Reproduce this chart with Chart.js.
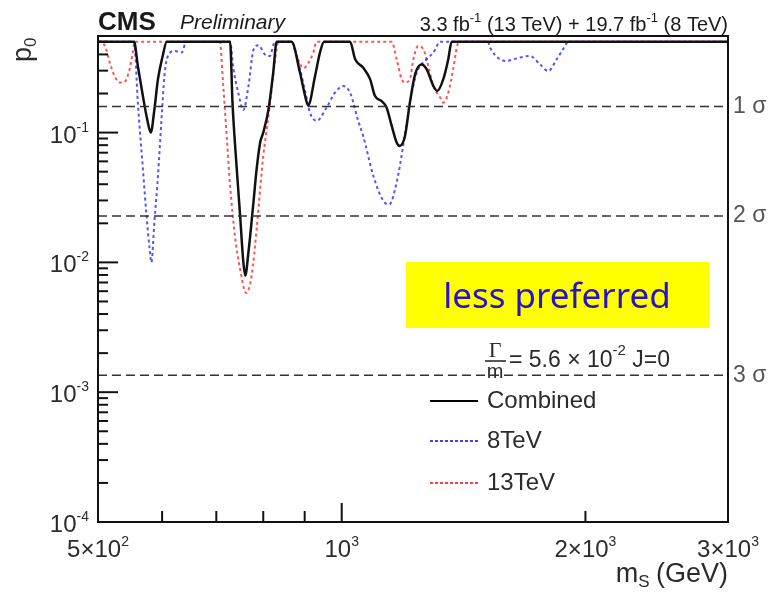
<!DOCTYPE html>
<html>
<head>
<meta charset="utf-8">
<script src="https://cdn.jsdelivr.net/npm/chart.js@4"></script>
<style>
  html, body { margin: 0; padding: 0; background: #fff; }
  #wrap { width: 774px; height: 594px; position: relative; }
</style>
</head>
<body>
<div id="wrap"><canvas id="c" width="774" height="594"></canvas></div>
<script>
// Local p-value scan versus resonance mass, spin-0 hypothesis, Gamma/m = 5.6e-2
const massCombined = [500, 554, 560, 568, 575, 581, 587, 593, 601, 608, 728, 733, 742, 749, 756, 760, 767, 778, 785, 793, 800, 812, 823, 831, 867, 888, 901, 909, 927, 940, 951, 1024, 1039, 1063, 1084, 1099, 1120, 1136, 1153, 1169, 1180, 1197, 1214, 1232, 1255, 1273, 1298, 1312, 1335, 1354, 1367, 3000];
const pCombined    = [0.5, 0.5, 0.326, 0.192, 0.127, 0.100, 0.151, 0.258, 0.389, 0.5, 0.5, 0.17, 0.052, 0.023, 0.0100, 0.0079, 0.012, 0.029, 0.052, 0.084, 0.100, 0.151, 0.29, 0.5, 0.5, 0.29, 0.192, 0.162, 0.273, 0.413, 0.5, 0.5, 0.367, 0.316, 0.258, 0.192, 0.175, 0.156, 0.112, 0.084, 0.0789, 0.094, 0.17, 0.281, 0.335, 0.308, 0.228, 0.209, 0.258, 0.367, 0.5, 0.5];

const mass8TeV = [500, 554, 560, 568, 574, 579, 582, 587, 593, 599, 604, 610, 622, 634, 643, 728, 735, 745, 756, 767, 778, 789, 804, 815, 827, 867, 888, 901, 914, 931, 958, 981, 1005, 1024, 1048, 1063, 1094, 1126, 1145, 1169, 1191, 1214, 1238, 1273, 1298, 1323, 1516, 1525, 1599, 1629, 1708, 1758, 1799, 1843, 1887, 1903, 3000];
const p8TeV    = [0.5, 0.5, 0.17, 0.053, 0.023, 0.0128, 0.0100, 0.0205, 0.0465, 0.127, 0.273, 0.389, 0.425, 0.413, 0.5, 0.5, 0.308, 0.203, 0.149, 0.228, 0.433, 0.47, 0.40, 0.389, 0.5, 0.5, 0.308, 0.209, 0.142, 0.123, 0.156, 0.203, 0.228, 0.203, 0.123, 0.094, 0.0465, 0.0297, 0.028, 0.0412, 0.0789, 0.17, 0.29, 0.367, 0.413, 0.5, 0.5, 0.45, 0.356, 0.367, 0.389, 0.335, 0.298, 0.367, 0.464, 0.5, 0.5];

const mass13TeV = [500, 503, 510, 517, 524, 532, 539, 547, 552, 555, 707, 714, 721, 728, 738, 749, 762, 774, 785, 793, 800, 812, 823, 831, 834, 867, 880, 897, 909, 922, 931, 1153, 1169, 1186, 1197, 1214, 1226, 1243, 1261, 1279, 1298, 1323, 1335, 1354, 1373, 1387, 1395, 3000];
const p13TeV    = [0.5, 0.5, 0.464, 0.346, 0.273, 0.243, 0.245, 0.308, 0.413, 0.5, 0.5, 0.228, 0.094, 0.0388, 0.0161, 0.0089, 0.0058, 0.0079, 0.018, 0.0367, 0.066, 0.134, 0.273, 0.44, 0.5, 0.5, 0.389, 0.313, 0.342, 0.41, 0.5, 0.5, 0.367, 0.258, 0.243, 0.258, 0.367, 0.464, 0.44, 0.326, 0.228, 0.186, 0.17, 0.203, 0.308, 0.45, 0.5, 0.5];

// Significance reference lines (one-sided p-values)
const sigmaLabels = ['1 σ', '2 σ', '3 σ'];
const sigmaP = [0.158655, 0.0227501, 0.0013499];

// Axis tick labels: [mantissa, exponent]
const xTickValues = [500, 1000, 2000, 3000];
const xTickLabels = [['5×10', '2'], ['10', '3'], ['2×10', '3'], ['3×10', '3']];
const yTickValues = [1e-1, 1e-2, 1e-3, 1e-4];
const yTickLabels = [['10', '-1'], ['10', '-2'], ['10', '-3'], ['10', '-4']];

const seriesNames = ['Combined', '8TeV', '13TeV'];

const toPoints = (xs, ys) => xs.map((x, i) => ({ x: x, y: ys[i] }));

const FONT = '"Liberation Sans", Arial, sans-serif';
const TXT = '#2b2b2b';

function supText(ctx, base, exp, x, y, size, supSize, rise, align) {
  ctx.font = size + 'px ' + FONT;
  const wb = ctx.measureText(base).width;
  ctx.font = supSize + 'px ' + FONT;
  const we = ctx.measureText(exp).width;
  const total = wb + we;
  let x0 = x;
  if (align === 'center') x0 = x - total / 2;
  else if (align === 'right') x0 = x - total;
  ctx.textAlign = 'left';
  ctx.textBaseline = 'alphabetic';
  ctx.font = size + 'px ' + FONT;
  ctx.fillText(base, x0, y);
  ctx.font = supSize + 'px ' + FONT;
  ctx.fillText(exp, x0 + wb, y - rise);
}

const framePlugin = {
  id: 'frame',
  afterDatasetsDraw(chart) {
    const ctx = chart.ctx;
    const ca = chart.chartArea;
    const xs = chart.scales.x, ys = chart.scales.y;
    ctx.save();

    // significance lines
    ctx.strokeStyle = '#333';
    ctx.lineWidth = 1.5;
    ctx.setLineDash([9, 5]);
    sigmaP.forEach((p, i) => {
      const py = ys.getPixelForValue(p);
      ctx.beginPath();
      ctx.moveTo(ca.left, py);
      ctx.lineTo(ca.right, py);
      ctx.stroke();
      ctx.fillStyle = '#555';
      ctx.font = '23px ' + FONT;
      ctx.textAlign = 'left';
      ctx.textBaseline = 'middle';
      ctx.fillText(sigmaLabels[i], ca.right + 5, py);
    });
    ctx.setLineDash([]);

    // frame
    ctx.strokeStyle = '#111';
    ctx.lineWidth = 2;
    ctx.strokeRect(ca.left, ca.top, ca.right - ca.left, ca.bottom - ca.top);

    // y ticks (inside)
    for (let d = -4; d <= -1; d++) {
      for (let k = 1; k <= 9; k++) {
        const v = k * Math.pow(10, d);
        if (v > ys.max) continue;
        const py = ys.getPixelForValue(v);
        const len = k === 1 ? 20 : 10;
        ctx.beginPath();
        ctx.moveTo(ca.left, py);
        ctx.lineTo(ca.left + len, py);
        ctx.stroke();
      }
    }
    // x ticks (inside)
    [600, 700, 800, 900, 1000, 2000].forEach(v => {
      const px = xs.getPixelForValue(v);
      const len = v === 1000 ? 19 : 11;
      ctx.beginPath();
      ctx.moveTo(px, ca.bottom);
      ctx.lineTo(px, ca.bottom - len);
      ctx.stroke();
    });

    // tick labels
    ctx.fillStyle = TXT;
    yTickValues.forEach((v, i) => {
      const py = ys.getPixelForValue(v);
      supText(ctx, yTickLabels[i][0], yTickLabels[i][1], ca.left - 9, py + 10, 24, 14, 11, 'right');
    });
    xTickValues.forEach((v, i) => {
      const px = xs.getPixelForValue(v);
      supText(ctx, xTickLabels[i][0], xTickLabels[i][1], px, ca.bottom + 35, 24, 14, 11, 'center');
    });

    // axis titles
    ctx.font = '27px ' + FONT;
    ctx.textAlign = 'right';
    ctx.textBaseline = 'alphabetic';
    ctx.fillText('(GeV)', ca.right, ca.bottom + 60);
    const wG = ctx.measureText(' (GeV)').width;
    ctx.font = '17px ' + FONT;
    const wS = ctx.measureText('S').width;
    ctx.fillText('S', ca.right - wG + 1, ca.bottom + 65);
    ctx.font = '27px ' + FONT;
    ctx.fillText('m', ca.right - wG - wS + 1, ca.bottom + 60);

    ctx.save();
    ctx.translate(31, 62);
    ctx.rotate(-Math.PI / 2);
    ctx.textAlign = 'left';
    ctx.font = '27px ' + FONT;
    ctx.fillText('p', 0, 0);
    const wp = ctx.measureText('p').width;
    ctx.font = '17px ' + FONT;
    ctx.fillText('0', wp, 5);
    ctx.restore();

    // header
    ctx.textAlign = 'left';
    ctx.font = 'bold 26px ' + FONT;
    ctx.fillStyle = '#1a1a1a';
    ctx.fillText('CMS', ca.left, 30);
    ctx.font = 'italic 21px ' + FONT;
    ctx.fillText('Preliminary', 180, 29);

    const parts = [['3.3 fb', 0], ['-1', 1], [' (13 TeV) + 19.7 fb', 0], ['-1', 1], [' (8 TeV)', 0]];
    const fBig = '20px ' + FONT, fSmall = '13px ' + FONT;
    let tw = 0;
    parts.forEach(p => { ctx.font = p[1] ? fSmall : fBig; tw += ctx.measureText(p[0]).width; });
    let tx = ca.right - tw;
    parts.forEach(p => {
      ctx.font = p[1] ? fSmall : fBig;
      ctx.fillText(p[0], tx, p[1] ? 22 : 31);
      tx += ctx.measureText(p[0]).width;
    });

    // yellow note
    ctx.fillStyle = '#ffff00';
    ctx.fillRect(406, 262, 303, 66);
    ctx.fillStyle = '#2a12c8';
    ctx.font = '35px "Noto Sans", "Open Sans", sans-serif';
    ctx.textAlign = 'center';
    ctx.textBaseline = 'alphabetic';
    ctx.fillText('less preferred', 557, 308);

    // width annotation
    ctx.fillStyle = TXT;
    ctx.textAlign = 'center';
    ctx.font = '22px "Liberation Serif", serif';
    ctx.fillText('Γ', 495, 357);
    ctx.font = '20px ' + FONT;
    ctx.fillText('m', 495, 378);
    ctx.strokeStyle = TXT;
    ctx.lineWidth = 1.6;
    ctx.beginPath();
    ctx.moveTo(485, 361);
    ctx.lineTo(506, 361);
    ctx.stroke();
    ctx.textAlign = 'left';
    ctx.font = '23px ' + FONT;
    ctx.fillText('= 5.6 × 10', 509, 367);
    let wx = 509 + ctx.measureText('= 5.6 × 10').width;
    ctx.font = '15px ' + FONT;
    ctx.fillText('-2', wx, 355);
    wx += ctx.measureText('-2').width;
    ctx.font = '23px ' + FONT;
    ctx.fillText(' J=0', wx, 367);

    // legend
    const legY = [401, 441, 483];
    const legStyle = [
      { c: '#000', w: 2, d: [] },
      { c: '#0000ff', w: 1.3, d: [3, 2] },
      { c: '#ff0000', w: 1.3, d: [3, 2] }
    ];
    seriesNames.forEach((name, i) => {
      const st = legStyle[i];
      ctx.strokeStyle = st.c;
      ctx.lineWidth = st.w;
      ctx.setLineDash(st.d);
      ctx.beginPath();
      ctx.moveTo(430, legY[i]);
      ctx.lineTo(478, legY[i]);
      ctx.stroke();
      ctx.setLineDash([]);
      ctx.fillStyle = TXT;
      ctx.font = '24px ' + FONT;
      ctx.textAlign = 'left';
      ctx.textBaseline = 'middle';
      ctx.fillText(name, 487, legY[i]);
    });

    ctx.restore();
  }
};

new Chart(document.getElementById('c'), {
  type: 'line',
  data: {
    datasets: [
      {
        label: seriesNames[0],
        data: toPoints(massCombined, pCombined),
        borderColor: '#111',
        borderWidth: 2.5,
        pointRadius: 0,
        cubicInterpolationMode: 'monotone'
      },
      {
        label: seriesNames[1],
        data: toPoints(mass8TeV, p8TeV),
        borderColor: 'rgba(40,40,255,0.8)',
        borderWidth: 2,
        borderDash: [3, 3],
        pointRadius: 0,
        cubicInterpolationMode: 'monotone'
      },
      {
        label: seriesNames[2],
        data: toPoints(mass13TeV, p13TeV),
        borderColor: 'rgba(255,40,40,0.8)',
        borderWidth: 2,
        borderDash: [3, 3],
        pointRadius: 0,
        cubicInterpolationMode: 'monotone'
      }
    ]
  },
  options: {
    responsive: false,
    animation: false,
    events: [],
    layout: { padding: { left: 98, right: 46, top: 36, bottom: 72 } },
    scales: {
      x: { type: 'logarithmic', min: 500, max: 3000, display: false },
      y: { type: 'logarithmic', min: 1e-4, max: 0.5546, display: false }
    },
    plugins: {
      legend: { display: false },
      tooltip: { enabled: false }
    }
  },
  plugins: [framePlugin]
});
</script>
</body>
</html>
